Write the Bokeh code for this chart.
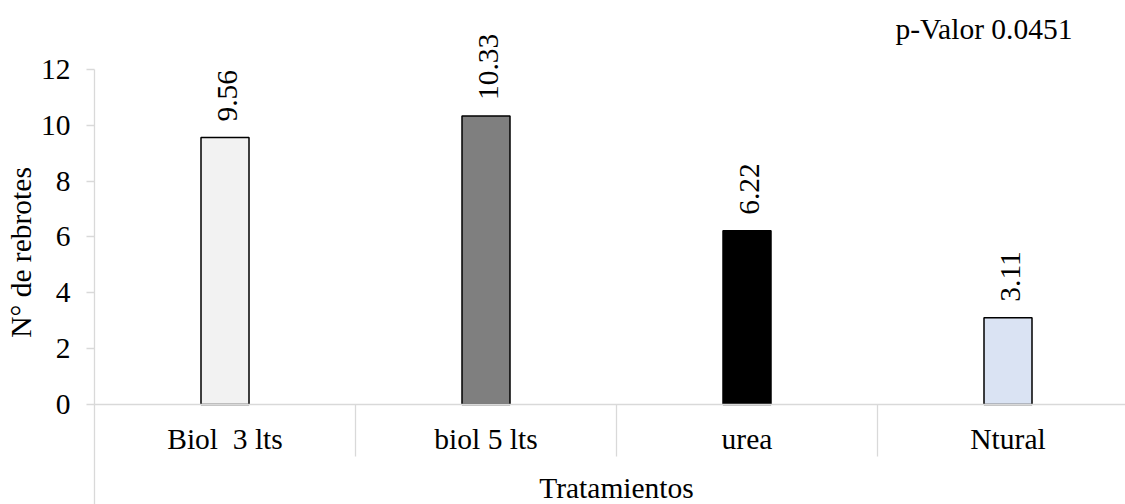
import math
from bokeh.plotting import figure
from bokeh.models import Range1d, FixedTicker, Span, ColumnDataSource, Label
from bokeh.embed import file_html
from bokeh.resources import INLINE

categories = ["Biol\u00a0 3 lts", "biol 5 lts", "urea", "Ntural"]
values = [9.56, 10.33, 6.22, 3.11]
value_labels = ["9.56", "10.33", "6.22", "3.11"]
colors = ["#f2f2f2", "#7f7f7f", "#000000", "#dae3f3"]
y_ticks = [0, 2, 4, 6, 8, 10, 12]
y_title = "N° de rebrotes"
x_title = "Tratamientos"
note = "p-Valor 0.0451"

FONT = "Liberation Serif"
FS = "29.5px"
GRAY = "#d9d9d9"

W, H = 1125, 504
left = 94
cat_px = 261.0
zero_px = 404.0
unit_px = 27.92

x_end = (W - left) / cat_px
y_top = zero_px / unit_px
y_bot = -(H - zero_px) / unit_px

p = figure(width=W, height=H, output_backend="svg", toolbar_location=None,
           x_range=Range1d(0, x_end), y_range=Range1d(y_bot, y_top),
           x_axis_location=None, min_border_left=left, min_border_right=0,
           min_border_top=0, min_border_bottom=0)
p.outline_line_color = None
p.grid.visible = False
p.background_fill_color = "white"

ya = p.yaxis[0]
ya.ticker = FixedTicker(ticks=y_ticks)
ya.bounds = (y_bot, 12)
ya.axis_line_color = GRAY
ya.axis_line_width = 1.3
ya.major_tick_line_color = GRAY
ya.major_tick_line_width = 1.3
ya.major_tick_out = 8
ya.major_tick_in = 0
ya.minor_tick_line_color = None
ya.major_label_text_font = FONT
ya.major_label_text_font_size = FS
ya.major_label_text_color = "black"
ya.major_label_standoff = 16
ya.axis_label = y_title
ya.axis_label_text_font = FONT
ya.axis_label_text_font_size = FS
ya.axis_label_text_font_style = "normal"
ya.axis_label_text_color = "black"
ya.axis_label_standoff = 1

n = len(categories)
centers = [i + 0.5 for i in range(n)]

p.add_layout(Span(location=0, dimension="width", line_color=GRAY, line_width=1.3))

sep_x = list(range(1, n + 1))
p.segment(x0=sep_x, x1=sep_x, y0=[0] * n, y1=[-52 / unit_px] * n,
          line_color=GRAY, line_width=1.3)

src = ColumnDataSource(dict(x=centers, top=values, color=colors))
p.vbar(x="x", top="top", bottom=0, width=48 / cat_px, fill_color="color",
       line_color="black", line_width=1.5, source=src)

for xc, v, lab, cat in zip(centers, values, value_labels, categories):
    p.add_layout(Label(x=xc, y=v, text=lab, angle=math.pi / 2, text_align="left",
                       text_baseline="middle", x_offset=2, y_offset=16,
                       text_font=FONT, text_font_size=FS, text_color="black"))
    p.add_layout(Label(x=xc, y=-(438 - zero_px) / unit_px, text=cat,
                       text_align="center", text_baseline="middle",
                       text_font=FONT, text_font_size=FS, text_color="black"))

p.add_layout(Label(x=n / 2, y=-(487 - zero_px) / unit_px, text=x_title,
                   text_align="center", text_baseline="middle",
                   text_font=FONT, text_font_size=FS, text_color="black"))

p.add_layout(Label(x=(895 - left) / cat_px, y=(zero_px - 28) / unit_px, text=note,
                   text_align="left", text_baseline="middle", text_font=FONT,
                   text_font_size=FS, text_color="black"))

open("out.html", "w").write(file_html(p, INLINE))
